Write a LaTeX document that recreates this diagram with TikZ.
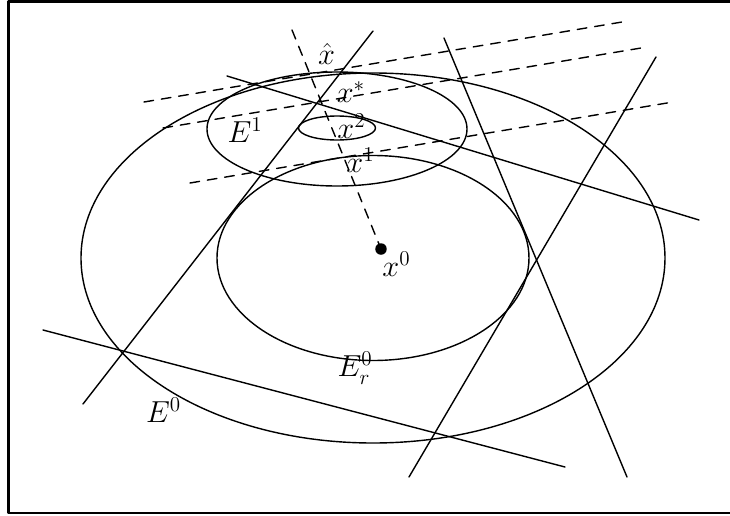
\documentclass[tikz,border=0pt]{standalone}
\begin{document}
\begin{tikzpicture}[line cap=round,line join=round,line width=0.8pt,font=\LARGE]
\tikzset{dsh/.style={dash pattern=on 5.5pt off 4.5pt},
  pt/.style={circle,fill,inner sep=0pt,minimum size=0.23cm}}
\useasboundingbox (-7.46,-5.14) rectangle (7.14,5.16);
\draw[line width=1.5pt,line cap=butt] (7.6,-5.1)--(-7.29,-5.1)--(-7.29,5.13)--(7.6,5.13);
% ellipses
\draw (0,0) ellipse (5.84 and 3.7);
\draw (0,0) ellipse (3.12 and 2.05);
\draw (-0.72,2.58) ellipse (2.6 and 1.14);
\draw (-0.72,2.6) ellipse (0.77 and 0.24);
% cuts
\foreach \xa/\ya/\xb/\yb in {-5.8/-2.92/0/4.54,-6.6/-1.44/3.84/-4.18,-2.92/3.64/6.52/0.76,1.42/4.4/5.08/-4.38,5.66/4.02/0.72/-4.38}
  \draw (\xa,\ya)--(\xb,\yb);
\foreach \xa/\ya/\xb/\yb in {-4.58/3.12/5.1/4.74,-4.2/2.6/5.48/4.22,-3.66/1.5/6.0/3.12}
  \draw[dsh] (\xa,\ya)--(\xb,\yb);
% iterates
\node[pt] (x0) at (0.16,0.18) {};
\coordinate (xs) at (-1.62,4.56);
\draw[dsh] (xs)--(x0.center);
\node (xhat) at (-0.93,4.08) {$\hat{x}$};
\node (xstar) at (-0.44,3.31) {$x^*$};
\node (x2) at (-0.43,2.63) {$x^2$};
\node (x1) at (-0.25,1.95) {$x^1$};
\node (x0lab) at (0.47,-0.12) {$x^0$};
\node (E1) at (-2.56,2.56) {$E^1$};
\node (Er0) at (-0.36,-2.2) {$E_r^0$};
\node (E0) at (-4.19,-3.04) {$E^0$};
\end{tikzpicture}
\end{document}
